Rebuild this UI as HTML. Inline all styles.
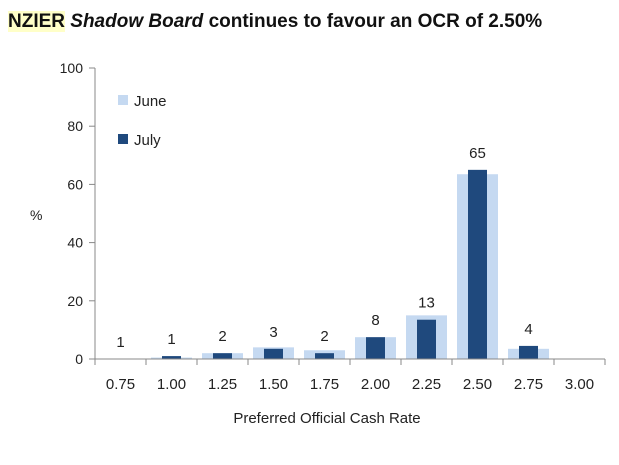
<!DOCTYPE html>
<html><head><meta charset="utf-8"><style>
body{margin:0;background:#fff;width:619px;height:465px;overflow:hidden;font-family:"Liberation Sans",sans-serif}
#title{position:absolute;left:8px;top:11px;font-size:19px;font-weight:bold;color:#111;white-space:nowrap}
#title .hl{background:#ffffc8}
</style></head><body>
<div id="title"><span class="hl">NZIER</span> <i>Shadow Board</i> continues to favour an OCR of 2.50%</div>
<svg id="chart" width="619" height="465" style="position:absolute;left:0;top:0"></svg>
<script>
const categories=["0.75","1.00","1.25","1.50","1.75","2.00","2.25","2.50","2.75","3.00"];
const juneVals=[0,0.5,2,4,3,7.5,15,63.5,3.5,0];
const julyVals=[0,1,2,3.5,2,7.5,13.5,65,4.5,0];
const julyLabels=["1","1","2","3","2","8","13","65","4",""];
const yTicks=[0,20,40,60,80,100];
const svg=document.getElementById('chart');const NS='http://www.w3.org/2000/svg';
const x0=95,x1=605,yB=359,yT=68,cw=(x1-x0)/categories.length;
const y=v=>yB-(v/100)*(yB-yT);const xc=i=>x0+cw*(i+0.5);
function mk(t,a,p){const e=document.createElementNS(NS,t);for(const k in a)e.setAttribute(k,a[k]);(p||svg).appendChild(e);return e;}
const F='"Liberation Sans",sans-serif';
let ax=mk('line',{x1:x0,y1:yT,x2:x0,y2:yB,stroke:'#888'});


yTicks.forEach(v=>{mk('line',{x1:x0-6,y1:y(v),x2:x0,y2:y(v),stroke:'#888'});
 const t=mk('text',{x:83,y:y(v)+5,'text-anchor':'end','font-size':14,'font-family':F,fill:'#222'});t.textContent=v;
 
 });
const pt=mk('text',{x:30,y:220,'font-size':14,'font-family':F,fill:'#222'});pt.textContent='%';


categories.forEach((c,i)=>{
 const jw=41,lw=19;
 const b1=mk('rect',{x:xc(i)-jw/2,y:y(juneVals[i]),width:jw,height:yB-y(juneVals[i]),fill:'#c5d9f1'});
 
 
 const b2=mk('rect',{x:xc(i)-lw/2,y:y(julyVals[i]),width:lw,height:yB-y(julyVals[i]),fill:'#1f497d'});
 
 
 if(julyLabels[i]){const t=mk('text',{x:xc(i),y:y(julyVals[i])-12,'text-anchor':'middle','font-size':15,'font-family':F,fill:'#222'});t.textContent=julyLabels[i];
 
 }
 const t2=mk('text',{x:xc(i),y:389,'text-anchor':'middle','font-size':15,'font-family':F,fill:'#222'});t2.textContent=c;
 
 
});
const xa=mk('line',{x1:x0,y1:yB,x2:x1,y2:yB,stroke:'#888'});


for(let i=0;i<=categories.length;i++)mk('line',{x1:x0+cw*i,y1:yB,x2:x0+cw*i,y2:yB+6,stroke:'#888'});
const xt=mk('text',{x:327,y:423,'text-anchor':'middle','font-size':15,'font-family':F,fill:'#222'});xt.textContent='Preferred Official Cash Rate';


[['June','#c5d9f1',101],['July','#1f497d',140]].forEach(([n,c,yy])=>{
 const g=mk('g',{});
 
 
 mk('rect',{x:118,y:yy-6,width:10,height:10,fill:c},g);
 const t=mk('text',{x:134,y:yy+5,'font-size':15,'font-family':F,fill:'#222'},g);t.textContent=n;});
</script>
</body></html>
